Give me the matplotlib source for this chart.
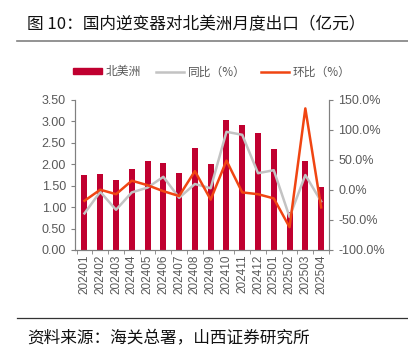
import matplotlib
matplotlib.use("Agg")
import matplotlib.pyplot as plt
from matplotlib.lines import Line2D
from matplotlib.patches import Patch
from matplotlib.ticker import FuncFormatter
import numpy as np

plt.rcParams['font.family'] = ['Liberation Sans', 'Noto Sans CJK SC', 'DejaVu Sans']

# monthly exports to North America (100M CNY), yoy and mom in %
months = ['202401', '202402', '202403', '202404', '202405', '202406', '202407', '202408',
          '202409', '202410', '202411', '202412', '202501', '202502', '202503', '202504']
export_na = [1.75, 1.77, 1.63, 1.88, 2.07, 2.02, 1.79, 2.39,
             2.01, 3.03, 2.91, 2.72, 2.36, 0.88, 2.08, 1.48]
yoy = [-39, -3, -33, -4, 4, 22, -13, 10,
       3, 97, 92, 28, 33, -45, 25, -19]
mom = [-18, 0.5, -7, 15.5, 8, -2, -10, 31.5,
       -16, 49, -4, -7, -14, -62, 136, -29]

bar_color = '#C00030'
yoy_color = '#C3C3C3'
mom_color = '#F04512'
axis_gray = '#808080'
text_gray = '#595959'

fig = plt.figure(figsize=(4.08, 3.55), dpi=100)
ax = fig.add_axes([75 / 408, 1 - 250 / 355, (329 - 75) / 408, 150 / 355])
ax2 = ax.twinx()

x = np.arange(len(months))
ax.bar(x, export_na, width=0.38, color=bar_color, zorder=2)
ax2.plot(x, yoy, color=yoy_color, lw=1.8, zorder=3)
ax2.plot(x, mom, color=mom_color, lw=1.8, zorder=4)

ax.set_ylim(0, 3.5)
ax.set_yticks(np.arange(0, 3.51, 0.5))
ax.yaxis.set_major_formatter(FuncFormatter(lambda v, p: f'{v:.2f}'))
ax2.set_ylim(-100, 150)
ax2.set_yticks(np.arange(-100, 151, 50))
ax2.yaxis.set_major_formatter(FuncFormatter(lambda v, p: f'{v:.1f}%'))
ax.set_xlim(-0.6, 15.5)

ax.set_xticks(x)
ax.set_xticklabels(months, rotation=90, fontsize=8.5, color=text_gray)
ax.set_xticks(np.arange(-0.5, 16, 1), minor=True)
ax.tick_params(axis='x', which='major', length=0, pad=3)
ax.tick_params(axis='x', which='minor', length=3, color=axis_gray)
ax.tick_params(axis='y', labelsize=9, colors=text_gray, length=3, color=axis_gray)
ax2.tick_params(axis='y', labelsize=9, colors=text_gray, length=3, color=axis_gray)
for a in (ax, ax2):
    a.spines['top'].set_visible(False)
    for s in ('left', 'right', 'bottom'):
        a.spines[s].set_color(axis_gray)
        a.spines[s].set_linewidth(0.8)
ax.set_zorder(ax2.get_zorder() - 1)
ax.patch.set_visible(False)
ax2.patch.set_visible(False)

handles = [Patch(color=bar_color),
           Line2D([], [], color=yoy_color, lw=1.8),
           Line2D([], [], color=mom_color, lw=1.8)]
fig.legend(handles, ['北美洲', '同比（%）', '环比（%）'], loc='center',
           bbox_to_anchor=(212 / 408, 1 - 72 / 355), ncol=3, frameon=False,
           prop={'family': ['Noto Sans CJK SC'], 'size': 8.5}, handlelength=2.4,
           handleheight=0.45, columnspacing=1.3, handletextpad=0.3,
           labelcolor=text_gray)

fig.text(27 / 408, 1 - 25 / 355, '图 10：国内逆变器对北美洲月度出口（亿元）',
         fontsize=12, family=['Noto Sans CJK SC'], va='center', ha='left', color='#111111')
fig.add_artist(Line2D([17 / 408, 1], [1 - 41 / 355] * 2, color='#808080', lw=1.2))
fig.add_artist(Line2D([17 / 408, 1], [1 - 318 / 355] * 2, color='#333333', lw=0.9))
fig.text(27 / 408, 1 - 339 / 355, '资料来源：海关总署，山西证券研究所',
         fontsize=12, family=['Noto Sans CJK SC'], va='center', ha='left', color='#111111')

fig.savefig('out.png', dpi=100)
